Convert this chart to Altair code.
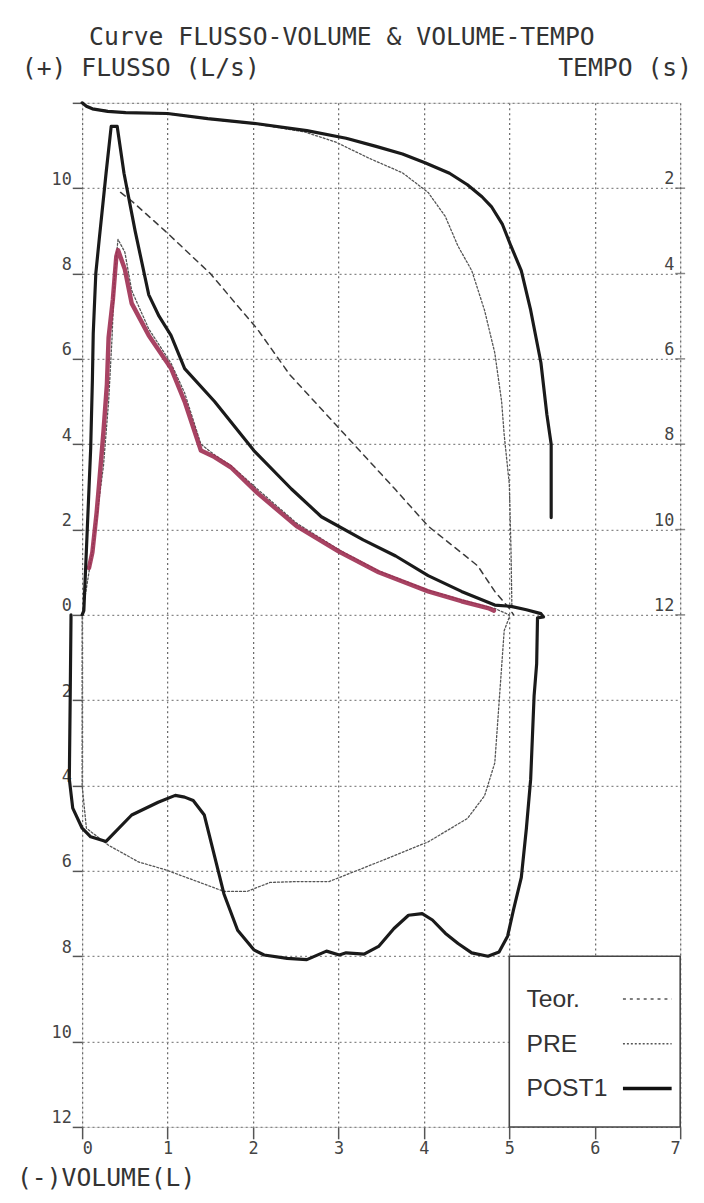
import altair as alt
import pandas as pd

# ---------------- data ----------------
# POST1 flow-volume loop (volume L, flow L/s), in drawing order
post_vol = [0.0, 0.02, 0.06, 0.10, 0.12, 0.13, 0.16, 0.20, 0.28, 0.34, 0.41, 0.49, 0.62, 0.78, 0.90,
            1.04, 1.20, 1.55, 2.01, 2.45, 2.80, 3.29, 3.67, 4.05, 4.44, 4.83, 5.02, 5.20, 5.37, 5.40,
            5.33, 5.32, 5.29, 5.25, 5.20, 5.14, 5.05, 4.98, 4.88, 4.75, 4.56, 4.40, 4.25, 4.10, 3.98,
            3.82, 3.65, 3.47, 3.30, 3.09, 3.01, 2.86, 2.63, 2.40, 2.13, 2.01, 1.82, 1.66, 1.43, 1.30,
            1.20, 1.09, 0.89, 0.58, 0.28, 0.10, 0.0, -0.11, -0.15, -0.14, -0.13]
post_flow = [0.0, 0.1, 2.0, 3.9, 5.5, 6.6, 8.0, 8.8, 10.35, 11.45, 11.45, 10.35, 9.0, 7.5, 7.0,
             6.55, 5.77, 5.0, 3.85, 2.95, 2.3, 1.76, 1.38, 0.92, 0.55, 0.23, 0.2, 0.12, 0.03, -0.05,
             -0.07, -1.15, -1.9, -3.85, -5.0, -6.16, -6.9, -7.53, -7.9, -8.0, -7.92, -7.7, -7.46, -7.15, -7.0,
             -7.04, -7.35, -7.77, -7.95, -7.92, -7.97, -7.88, -8.08, -8.05, -7.97, -7.85, -7.39, -6.54, -4.69, -4.35,
             -4.27, -4.23, -4.39, -4.69, -5.31, -5.2, -5.0, -4.53, -3.85, -2.0, 0.0]

# PRE flow-volume loop (thin dotted)
pre_vol = [0.0, 0.12, 0.25, 0.31, 0.35, 0.38, 0.42, 0.50, 0.58, 0.78, 1.04, 1.20, 1.39, 1.55, 1.74,
           2.05, 2.51, 3.01, 3.47, 4.05, 4.44, 4.83, 5.0,
           5.0, 4.94, 4.83, 4.71, 4.51, 4.05, 3.47, 2.89, 2.51, 2.20, 1.93, 1.66, 1.35, 0.97, 0.66,
           0.31, 0.05, 0.0, 0.0]
pre_flow = [0.0, 1.5, 3.5, 5.0, 6.5, 8.0, 8.8, 8.5, 7.6, 6.7, 5.9, 5.2, 4.0, 3.75, 3.5,
            2.95, 2.15, 1.52, 1.03, 0.58, 0.35, 0.15, 0.0,
            -0.05, -0.37, -3.47, -4.24, -4.77, -5.32, -5.79, -6.25, -6.25, -6.27, -6.48, -6.48, -6.25, -5.97, -5.79,
            -5.4, -5.0, -4.0, 0.0]

# PRE expiratory curve, highlighted in red
red_vol = [0.08, 0.12, 0.17, 0.20, 0.25, 0.29, 0.31, 0.36, 0.40, 0.42, 0.50, 0.58, 0.78, 1.04, 1.20,
           1.39, 1.55, 1.74, 2.05, 2.51, 3.01, 3.47, 4.05, 4.44, 4.75, 4.82]
red_flow = [1.1, 1.47, 2.4, 3.1, 4.3, 5.4, 6.5, 7.4, 8.4, 8.55, 8.1, 7.3, 6.55, 5.78, 5.0,
            3.85, 3.7, 3.46, 2.86, 2.08, 1.48, 1.0, 0.55, 0.32, 0.16, 0.1]

# Predicted (Teor.) curve, dashed
teor_vol = [0.45, 0.58, 0.97, 1.50, 2.05, 2.43, 3.67, 4.05, 4.63, 4.83, 5.0, 5.05]
teor_flow = [9.9, 9.7, 9.0, 8.0, 6.7, 5.63, 2.93, 2.08, 1.15, 0.55, 0.15, 0.0]

# Volume-time curves (volume L, time s)
vt_post_vol = [0.0, 0.05, 0.12, 0.30, 0.51, 1.0, 1.47, 2.05, 2.63, 3.09, 3.44, 3.75, 4.02, 4.30, 4.51,
               4.68, 4.79, 4.92, 5.02, 5.14, 5.25, 5.37, 5.44, 5.49, 5.49]
vt_post_time = [0.0, 0.08, 0.14, 0.20, 0.23, 0.25, 0.37, 0.49, 0.65, 0.83, 1.02, 1.20, 1.41, 1.65, 1.92,
                2.20, 2.43, 2.85, 3.36, 3.93, 4.86, 6.09, 7.31, 8.0, 9.72]
vt_pre_vol = [0.0, 0.05, 0.12, 0.51, 1.0, 1.47, 2.05, 2.60, 2.97, 3.36, 3.75, 4.05, 4.25, 4.40, 4.56,
              4.71, 4.83, 4.91, 4.94, 5.0, 5.02, 5.03]
vt_pre_time = [0.0, 0.08, 0.14, 0.23, 0.26, 0.38, 0.50, 0.68, 0.92, 1.30, 1.64, 2.10, 2.66, 3.36, 3.93,
               4.86, 5.86, 7.0, 7.78, 8.94, 10.5, 11.8]

# axis tick values / labels
vol_ticks = [0, 1, 2, 3, 4, 5, 6, 7]
flow_ticks = [-12, -10, -8, -6, -4, -2, 0, 2, 4, 6, 8, 10, 12]
time_ticks = [2, 4, 6, 8, 10, 12]
legend_labels = ["Teor.", "PRE", "POST1"]

# ---------------- chart ----------------
FONT = "DejaVu Sans Mono"
W, H = 605, 1036

def path_df(v, f):
    return pd.DataFrame({"v": v, "f": f, "i": list(range(len(v)))})

xs = alt.Scale(domain=[0, 7], nice=False, zero=False)
ys = alt.Scale(domain=[-12, 12], nice=False, zero=False)

x_enc = alt.X("v:Q", scale=xs, axis=alt.Axis(
    values=vol_ticks, format="d", grid=True, gridColor="#666", gridDash=[2, 3], gridWidth=1.2,
    domain=False, ticks=True, tickSize=12, tickColor="#555", tickWidth=1.5,
    labelFont=FONT, labelFontSize=17, labelColor="#444", labelPadding=2, title=None))
y_enc = alt.Y("f:Q", scale=ys, axis=alt.Axis(
    values=flow_ticks, grid=True, gridColor="#888", gridDash=[2, 3], gridWidth=1.2,
    domain=False, ticks=True, tickSize=10, tickColor="#555", tickWidth=1.5,
    labelExpr="datum.value == 12 ? '' : '' + abs(datum.value)",
    labelBaseline="bottom", labelFont=FONT, labelFontSize=17, labelColor="#444",
    labelPadding=1, title=None))

def line(v, f, **kw):
    return alt.Chart(path_df(v, f)).mark_line(strokeJoin="round", strokeCap="round", **kw).encode(
        x=x_enc, y=y_enc, order="i:Q")

def vt_line(v, t, **kw):
    df = pd.DataFrame({"v": v, "t": t, "i": list(range(len(v)))})
    return alt.Chart(df).transform_calculate(f="12 - datum.t").mark_line(
        strokeJoin="round", strokeCap="round", **kw).encode(x=x_enc, y=y_enc, order="i:Q")

teor = line(teor_vol, teor_flow, color="#3a3a3a", strokeWidth=1.5, strokeDash=[6, 5])
pre = line(pre_vol, pre_flow, color="#555", strokeWidth=1.3, strokeDash=[2, 2])
red = line(red_vol, red_flow, color="#9e2f52", strokeWidth=4.5, opacity=0.9)
post = line(post_vol, post_flow, color="#1a1a1a", strokeWidth=3.2)
vt_pre = vt_line(vt_pre_vol, vt_pre_time, color="#555", strokeWidth=1.3, strokeDash=[2, 2])
vt_post = vt_line(vt_post_vol, vt_post_time, color="#1a1a1a", strokeWidth=3.2)

# time (right) axis labels, drawn inside the plot on the shared scale
tdf = pd.DataFrame({"t": time_ticks, "lab": [str(t) for t in time_ticks]})
time_lab = alt.Chart(tdf).transform_calculate(f="12 - datum.t", v="7").mark_text(
    font=FONT, fontSize=17, color="#444", align="right", baseline="bottom", dx=-6).encode(
    x=alt.X("v:Q", scale=xs), y=alt.Y("f:Q", scale=ys), text="lab:N")
time_tick = alt.Chart(tdf).transform_calculate(f="12 - datum.t", v="7").mark_tick(
    orient="horizontal", size=10, thickness=1.5, color="#555").encode(
    x=alt.X("v:Q", scale=xs), y=alt.Y("f:Q", scale=ys))

# legend box
box = alt.Chart(pd.DataFrame({"a": [0]})).mark_rect(
    fill="white", stroke="#444", strokeWidth=1.6).encode(
    x=alt.datum(5, scale=xs), x2=alt.datum(7), y=alt.datum(-8, scale=ys), y2=alt.datum(-12))
rows = [-9.0, -10.05, -11.1]
leg_text = alt.layer(*[
    alt.Chart(pd.DataFrame({"lab": [lab]})).mark_text(
        font="Liberation Sans", fontSize=25, color="#333", align="left", baseline="middle").encode(
        x=alt.datum(5.2, scale=xs), y=alt.datum(r, scale=ys), text="lab:N")
    for lab, r in zip(legend_labels, rows)])
leg_styles = [dict(color="#555", strokeWidth=1.5, strokeDash=[3, 4]),
              dict(color="#555", strokeWidth=1.5, strokeDash=[2, 2]),
              dict(color="#111", strokeWidth=3.5)]
leg_lines = alt.layer(*[
    alt.Chart(pd.DataFrame({"a": [0]})).mark_rule(**st).encode(
        x=alt.datum(6.33, scale=xs), x2=alt.datum(6.9), y=alt.datum(r, scale=ys))
    for st, r in zip(leg_styles, rows)])

# titles
def label(txt, x, y, size, align="left"):
    return alt.Chart(pd.DataFrame({"s": [txt]})).mark_text(
        font=FONT, fontSize=size, color="#333", align=align, baseline="alphabetic").encode(
        x=alt.value(x), y=alt.value(y), text="s:N")

t1 = label("Curve FLUSSO-VOLUME & VOLUME-TEMPO", 7, -59, 25)
t2 = label("(+) FLUSSO (L/s)", -61, -27, 25)
t3 = label("TEMPO (s)", 617, -27, 25, align="right")
t4 = label("(-)VOLUME(L)", -66, 1096, 25)

chart = alt.layer(
    vt_pre, vt_post, teor, pre, red, post, time_lab, time_tick,
    box, leg_text, leg_lines, t1, t2, t3, t4
).properties(
    width=W, height=H,
    autosize=alt.AutoSizeParams(type="none"),
    padding={"left": 75, "top": 89, "right": 16, "bottom": 70},
).configure_view(stroke=None).configure(background="white")

chart.save("out.html", embed_options={"renderer": "svg", "actions": False})
